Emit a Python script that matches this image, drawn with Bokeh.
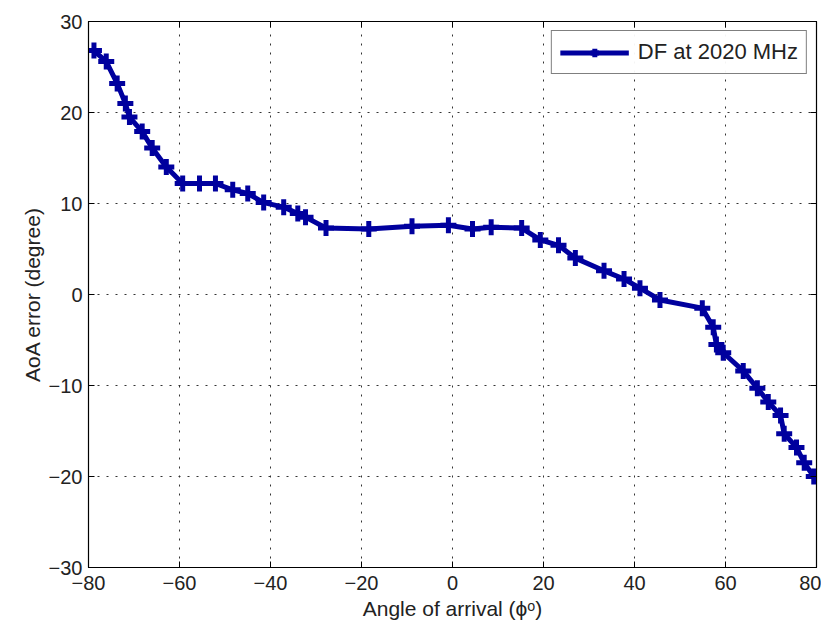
from bokeh.plotting import figure
from bokeh.models import (LinearAxis, Range1d, FixedTicker, CustomJSTickFormatter,
                          Legend, LegendItem, ColumnDataSource, CustomLabelingPolicy)
from bokeh.embed import file_html
from bokeh.resources import INLINE

angle = [-78.8, -76.1, -73.7, -71.9, -71.0, -68.2, -66.0, -62.9, -59.3, -55.6,
         -52.1, -48.3, -45.0, -41.5, -37.1, -34.0, -32.3, -27.8, -18.4, -8.9,
         -0.9, 4.4, 8.5, 15.2, 19.3, 23.3, 27.0, 33.3, 37.7, 41.2,
         45.6, 54.9, 57.3, 58.0, 59.5, 63.9, 67.0, 69.4, 72.1, 72.9,
         75.6, 77.3, 79.4]
error = [26.8, 25.6, 23.2, 21.0, 19.5, 17.9, 16.1, 14.0, 12.2, 12.2,
         12.2, 11.5, 11.1, 10.1, 9.6, 8.9, 8.5, 7.3, 7.2, 7.5,
         7.6, 7.2, 7.4, 7.3, 6.0, 5.4, 4.0, 2.6, 1.7, 0.7,
         -0.6, -1.5, -3.6, -5.5, -6.4, -8.4, -10.3, -11.8, -13.3, -15.3,
         -16.8, -18.5, -20.0]
x_ticks = [-80, -60, -40, -20, 0, 20, 40, 60, 80]
y_ticks = [-30, -20, -10, 0, 10, 20, 30]
series_label = "DF at 2020 MHz"

FONT = "Liberation Sans"
COLOR = "#00009E"
TXT = "#222222"

p = figure(width=821, height=622, output_backend="svg", toolbar_location=None,
           x_range=Range1d(-80, 80), y_range=Range1d(-30, 30),
           min_border_left=88, min_border_right=5, min_border_top=21,
           min_border_bottom=55)
p.outline_line_color = "black"
p.outline_line_width = 1.2

fmt = CustomJSTickFormatter(code="return tick.toString().replace('-', '\u2212');")
blank = CustomJSTickFormatter(code="return '';")

for ax in p.xaxis + p.yaxis:
    ax.major_label_text_font = FONT
    ax.major_label_text_font_size = "20px"
    ax.major_label_text_color = TXT
    ax.axis_label_text_font = FONT
    ax.axis_label_text_font_size = "21px"
    ax.axis_label_text_font_style = "normal"
    ax.axis_label_text_color = TXT
    ax.major_tick_in = 6
    ax.major_tick_out = 0
    ax.minor_tick_in = 0
    ax.minor_tick_out = 0
    ax.axis_line_color = "black"
    ax.major_tick_line_color = "black"
    ax.formatter = fmt

p.xaxis.ticker = FixedTicker(ticks=x_ticks)
p.yaxis.ticker = FixedTicker(ticks=y_ticks)
p.xaxis.axis_label = "Angle of arrival (\u03d5\u1d52)"
p.yaxis.axis_label = "AoA error (degree)"
p.xaxis.major_label_standoff = 8
p.yaxis.major_label_standoff = 6
p.xaxis.axis_label_standoff = 4
p.yaxis.axis_label_standoff = 2

hide = CustomLabelingPolicy(code="for (const i of indices) { indices.unset(i) }; return indices")
top = LinearAxis(ticker=FixedTicker(ticks=x_ticks), major_tick_in=6, major_tick_out=0,
                 minor_tick_in=0, minor_tick_out=0, major_label_policy=hide,
                 formatter=blank, major_label_standoff=0, axis_line_color="black")
right = LinearAxis(ticker=FixedTicker(ticks=y_ticks), major_tick_in=6, major_tick_out=0,
                   minor_tick_in=0, minor_tick_out=0, major_label_policy=hide,
                   formatter=blank, major_label_standoff=0, axis_line_color="black")
p.add_layout(top, "above")
p.add_layout(right, "right")

p.xgrid.ticker = FixedTicker(ticks=x_ticks)
p.ygrid.ticker = FixedTicker(ticks=y_ticks)
for g in (p.xgrid, p.ygrid):
    g.grid_line_color = "#333333"
    g.grid_line_dash = "2 7"
    g.grid_line_width = 1

src = ColumnDataSource(dict(x=angle, y=error))
ln = p.line("x", "y", source=src, line_color=COLOR, line_width=5)
mk = p.scatter("x", "y", source=src, marker="cross", size=16, line_color=COLOR,
               line_width=5)

legend = Legend(items=[LegendItem(label=series_label, renderers=[ln, mk])],
                location="top_right")
legend.label_text_font = FONT
legend.label_text_font_size = "22px"
legend.label_text_color = TXT
legend.border_line_color = "black"
legend.border_line_width = 1.2
legend.glyph_width = 69
legend.glyph_height = 21
legend.label_height = 21
legend.padding = 8
legend.margin = 9
legend.spacing = 0
legend.label_standoff = 9
p.add_layout(legend)

open("out.html", "w").write(file_html(p, INLINE))
